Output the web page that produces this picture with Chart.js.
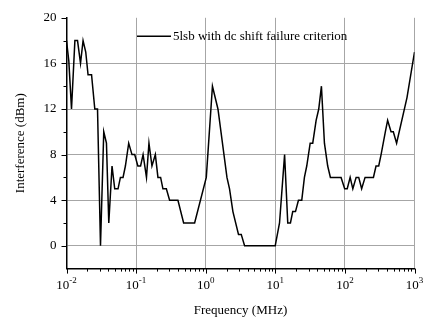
<!DOCTYPE html>
<html>
<head>
<meta charset="utf-8">
<script src="https://cdn.jsdelivr.net/npm/chart.js@4/dist/chart.umd.min.js"></script>
<style>
  html, body { margin: 0; padding: 0; background: #fff; }
  #wrap { width: 424px; height: 320px; }
</style>
</head>
<body>
<div id="wrap"><canvas id="c" width="424" height="320"></canvas></div>
<script>
// ---- data ----
const frequencyMHz = [0.01,0.0108,0.0118,0.0132,0.0144,0.0159,0.0173,0.0189,0.0204,0.0229,
  0.0255,0.0279,0.0308,0.0343,0.0375,0.0405,0.0451,0.0493,0.055,0.0595,
  0.0649,0.0702,0.0783,0.0873,0.0955,0.106,0.116,0.126,0.141,0.153,
  0.169,0.189,0.206,0.225,0.243,0.272,0.303,0.399,0.482,0.693,
  1.02,1.25,1.5,2.02,2.2,2.46,2.96,3.24,3.62,9.97,
  11.5,13.6,15.1,16.5,17.8,19.5,21.5,24,26.2,28.3,
  31.7,34.5,38.6,42.1,46,50.8,56.6,61.9,88.1,99.3,
  108,119,130,145,158,174,195,257,280,306,
  331,381,411,460,496,553,780,1000];
const interferenceDBm = [18,16.2,12,18,18,16,18,17,15,15,
  12,12,0,10,9,2,7,5,5,6,
  6,7,9,8,8,7,7,8,6,9,
  7,8,6,6,5,5,4,4,2,2,
  6,14,12,6,5,3,1,1,0,0,
  2,8,2,2,3,3,4,4,6,7,
  9,9,11,12,14,9,7,6,6,5,
  5,6,5,6,6,5,6,6,7,7,
  8,10,11,10,10,9,13,17];
const seriesLabel = "5lsb with dc shift failure criterion";
const xTitle = "Frequency (MHz)";
const yTitle = "Interference (dBm)";
const xDecadeExponents = [-2,-1,0,1,2,3];
const yTickValues = [0,4,8,12,16,20];

const FONT = "'Liberation Serif', 'Times New Roman', serif";

const decor = {
  id: 'decor',
  afterDraw(chart) {
    const { ctx, chartArea: a } = chart;
    const x = chart.scales.x, y = chart.scales.y;
    ctx.save();
    ctx.strokeStyle = '#000';
    ctx.lineWidth = 1;
    // y ticks (outward)
    for (let v = 0; v <= 20; v += 2) {
      const py = Math.round(y.getPixelForValue(v)) + 0.5;
      const len = (v % 4 === 0) ? 5 : 3;
      ctx.beginPath(); ctx.moveTo(a.left - len, py); ctx.lineTo(a.left, py); ctx.stroke();
    }
    // x ticks (outward)
    for (const e of xDecadeExponents) {
      for (let m = 1; m <= 9; m++) {
        const v = m * Math.pow(10, e);
        if (v > 1000 * 1.0001) break;
        const px = Math.round(x.getPixelForValue(v)) + 0.5;
        const len = m === 1 ? 5 : 3;
        ctx.beginPath(); ctx.moveTo(px, a.bottom); ctx.lineTo(px, a.bottom + len); ctx.stroke();
      }
    }
    // x tick labels 10^n
    ctx.fillStyle = '#000';
    ctx.textBaseline = 'alphabetic';
    for (const e of xDecadeExponents) {
      const px = x.getPixelForValue(Math.pow(10, e));
      ctx.font = '13px ' + FONT;
      const base = '10';
      const wb = ctx.measureText(base).width;
      ctx.font = '9px ' + FONT;
      const sup = e < 0 ? '-' + Math.abs(e) : String(e);
      const ws = ctx.measureText(sup).width;
      const left = px - (wb + ws) / 2;
      ctx.font = '13px ' + FONT;
      ctx.textAlign = 'left';
      ctx.fillText(base, left, a.bottom + 20.5);
      ctx.font = '9px ' + FONT;
      ctx.fillText(sup, left + wb, a.bottom + 14.5);
    }
    // legend
    const ly = a.top + 18.5;
    const lx = a.left + 70.5;
    ctx.lineWidth = 1.5;
    ctx.beginPath(); ctx.moveTo(lx, ly); ctx.lineTo(lx + 34, ly); ctx.stroke();
    ctx.font = '13px ' + FONT;
    ctx.textAlign = 'left';
    ctx.textBaseline = 'middle';
    ctx.fillText(seriesLabel, lx + 36, ly + 0.5);
    ctx.restore();
  }
};

const isDecade = v => Math.abs(Math.log10(v) - Math.round(Math.log10(v))) < 1e-6;

new Chart(document.getElementById('c'), {
  type: 'line',
  data: {
    datasets: [{
      label: seriesLabel,
      data: frequencyMHz.map((f, i) => ({ x: f, y: interferenceDBm[i] })),
      borderColor: '#000',
      borderWidth: 1.5,
      pointRadius: 0,
      tension: 0,
      fill: false
    }]
  },
  options: {
    responsive: false,
    animation: false,
    layout: { padding: { top: 8.5, right: 9.5, left: 0, bottom: 0 } },
    plugins: { legend: { display: false }, tooltip: { enabled: false } },
    scales: {
      x: {
        type: 'logarithmic',
        min: 0.01, max: 1000,
        afterFit(s) { s.height = 51.4; },
        ticks: { display: false },
        grid: {
          drawTicks: false,
          lineWidth: 1,
          color: c => (c.tick && isDecade(c.tick.value)) ? '#a6a6a6' : 'rgba(0,0,0,0)'
        },
        border: { display: true, color: '#000', width: 1.5 },
        title: {
          display: true, text: xTitle, color: '#000',
          font: { family: FONT, size: 13 },
          padding: { top: 0, bottom: 2 }
        }
      },
      y: {
        min: -2, max: 20,
        afterFit(s) { s.width = 66.5; },
        afterBuildTicks(s) { s.ticks = yTickValues.map(v => ({ value: v })); },
        ticks: {
          color: '#000',
          font: { family: FONT, size: 13 },
          padding: 10
        },
        grid: {
          drawTicks: false,
          lineWidth: 1,
          color: c => (c.tick && c.tick.value < 20) ? '#a6a6a6' : 'rgba(0,0,0,0)'
        },
        border: { display: true, color: '#000', width: 1.5 },
        title: {
          display: true, text: yTitle, color: '#000',
          font: { family: FONT, size: 13 },
          padding: { top: 13, bottom: 0 }
        }
      }
    }
  },
  plugins: [decor]
});
</script>
</body>
</html>
